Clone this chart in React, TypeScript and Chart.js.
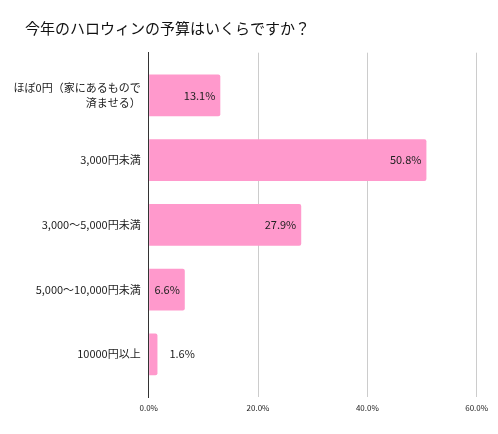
import React, { useEffect, useRef } from "react";
import { Chart, registerables } from "chart.js";

Chart.register(...registerables);

const titleText = "今年のハロウィンの予算はいくらですか？";
const categories: string[][] = [
  ["ほぼ0円（家にあるもので", "済ませる）"],
  ["3,000円未満"],
  ["3,000〜5,000円未満"],
  ["5,000〜10,000円未満"],
  ["10000円以上"],
];
const values = [13.1, 50.8, 27.9, 6.6, 1.6];
const xTicks = [0, 20, 40, 60];

const FONT = "'Noto Sans CJK JP', 'Noto Sans', sans-serif";

const titlePlugin = {
  id: "leftTitle",
  afterDraw(chart: any) {
    const ctx = chart.ctx;
    ctx.save();
    ctx.font = `15px ${FONT}`;
    ctx.fillStyle = "#111";
    ctx.textAlign = "left";
    ctx.textBaseline = "middle";
    ctx.fillText(titleText, 17, 20);
    ctx.restore();
  },
};

const valueLabelPlugin = {
  id: "valueLabels",
  afterDatasetsDraw(chart: any) {
    const ctx = chart.ctx;
    const meta = chart.getDatasetMeta(0);
    ctx.save();
    ctx.font = `11px ${FONT}`;
    ctx.fillStyle = "#222";
    ctx.textBaseline = "middle";
    meta.data.forEach((el: any, i: number) => {
      const txt = values[i].toFixed(1) + "%";
      const w = ctx.measureText(txt).width;
      const barW = el.x - el.base;
      if (barW > w + 6) {
        ctx.textAlign = "right";
        ctx.fillText(txt, el.x - 5, el.y);
      } else {
        ctx.textAlign = "left";
        ctx.fillText(txt, el.x + 12, el.y);
      }
    });
    ctx.restore();
  },
};

export default function App() {
  const ref = useRef<HTMLCanvasElement>(null);
  useEffect(() => {
    if (!ref.current) return;
    const chart = new Chart(ref.current, {
      type: "bar",
      data: {
        datasets: [
          {
            data: values.map((v, i) => ({ x: v, y: i })),
            backgroundColor: "#ff99cc",
            borderRadius: 2,
            categoryPercentage: 1,
            barPercentage: 0.644,
          },
        ],
      },
      options: {
        indexAxis: "y",
        animation: false,
        responsive: true,
        maintainAspectRatio: false,
        layout: { padding: { left: 0, right: 0, top: 44.7, bottom: 0 } },
        plugins: {
          legend: { display: false },
          tooltip: { enabled: false },
          title: { display: false },
        },
        scales: {
          x: {
            type: "linear",
            min: 0,
            max: 60,
            afterBuildTicks: (s: any) => {
              s.ticks = xTicks.map((v) => ({ value: v }));
            },
            ticks: {
              callback: (v: any) => Number(v).toFixed(1) + "%",
              font: { family: FONT, size: 8 },
              color: "#222",
              padding: 6,
              maxRotation: 0,
            },
            grid: {
              drawTicks: false,
              color: (c: any) => (c.tick && c.tick.value === 0 ? "#333" : "#ccc"),
            },
            border: { display: false },
            afterFit: (s: any) => {
              s.height = 29;
              s.paddingLeft = 0;
              s.paddingRight = 13.3;
            },
          },
          y: {
            type: "linear",
            min: -0.66,
            max: 4.66,
            reverse: true,
            offset: false,
            afterBuildTicks: (s: any) => {
              s.ticks = categories.map((_, i) => ({ value: i }));
            },
            ticks: {
              callback: (v: any) => categories[v] ?? "",
              font: { family: FONT, size: 11, lineHeight: 1.36 },
              color: "#222",
              padding: 8,
            },
            grid: { display: false, drawTicks: false, offset: false },
            border: { display: true, color: "#333", width: 1 },
            afterFit: (s: any) => {
              s.width = 140.7;
            },
          },
        },
      } as any,
      plugins: [valueLabelPlugin, titlePlugin],
    });
    return () => chart.destroy();
  }, []);
  return (
    <div style={{ width: 482, height: 418, position: "relative" }}>
      <canvas ref={ref} />
    </div>
  );
}
